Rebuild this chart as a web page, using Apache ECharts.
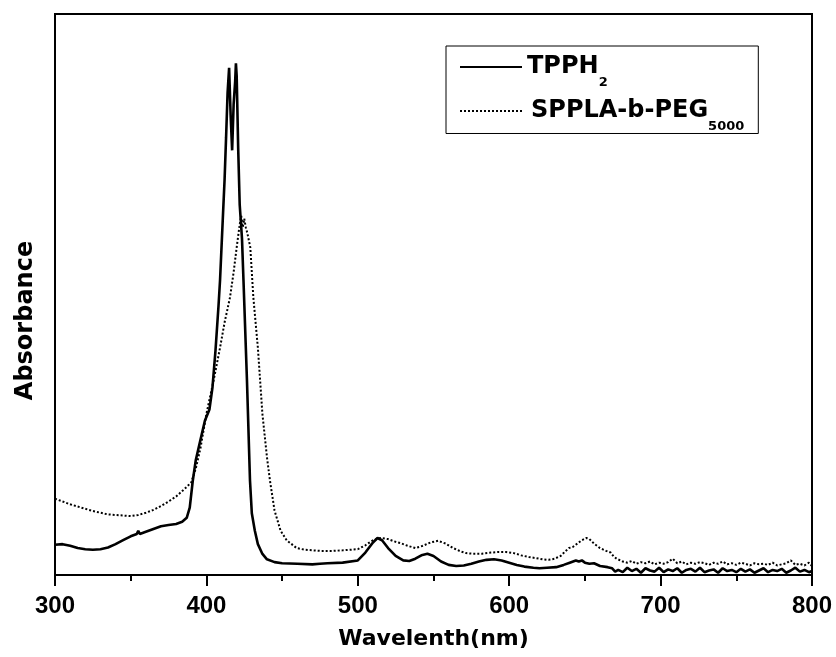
<!DOCTYPE html>
<html>
<head>
<meta charset="utf-8">
<script src="https://cdn.jsdelivr.net/npm/echarts@6/dist/echarts.min.js"></script>
<style>html,body{margin:0;padding:0;background:#fff;}#c{width:836px;height:657px;}</style>
</head>
<body>
<div id="c"></div>
<script>
// Wavelength (nm) / absorbance (arbitrary units, 0-100) pairs
var seriesNames = ['TPPH2', 'SPPLA-b-PEG5000'];
var xTicks = [300, 400, 500, 600, 700, 800];

var tpphData = [
  [300,5.4],[305,5.5],[310,5.2],[315,4.8],[320,4.6],[325,4.5],[330,4.6],[335,4.9],[340,5.5],
  [345,6.2],[350,6.9],[354,7.3],[355,7.9],[356,7.3],[360,7.7],[365,8.2],[370,8.7],[375,8.9],
  [380,9.1],[384,9.5],[387,10.2],[389,12.0],[391,16.8],[393,20.5],[396,24.0],[399,27.5],
  [402,29.5],[404,33.4],[406,40],[408,48],[409,52.5],[411,64.5],[412,70.4],[413,78],[414,86],
  [415,90.4],[416,82],[417,75.7],[418,84],[419,88],[419.5,91.2],[420,89],[421,76],[422,66],
  [423.5,60],[424.5,52.5],[426.8,34.6],[428.8,16.8],[430,11],[432,7.9],[434,5.5],[437,3.75],
  [440,2.8],[445,2.3],[450,2.1],[460,2.0],[470,1.9],[475,2.0],[480,2.1],[490,2.2],[500,2.6],
  [505,4.0],[510,5.8],[513,6.6],[516,6.2],[520,4.8],[525,3.4],[530,2.6],[534,2.5],[538,2.9],
  [542,3.5],[546,3.8],[550,3.4],[555,2.4],[560,1.8],[565,1.6],[570,1.7],[575,2.0],[580,2.4],
  [585,2.7],[590,2.8],[595,2.6],[600,2.2],[605,1.8],[610,1.5],[616,1.3],[620,1.2],[625,1.3],
  [631,1.4],[636,1.8],[640,2.2],[644,2.6],[646,2.4],[648,2.6],[650,2.2],[653,2.0],[656,2.1],
  [660,1.6],[665,1.4],[668,1.2],[670,0.6],
  [672,0.9],[675,0.5],[678,1.3],[681,0.7],[684,1.1],[687,0.4],[690,1.2],[693,0.8],[696,0.6],
  [699,1.3],[702,0.5],[705,1.0],[708,0.7],[711,1.2],[714,0.4],[717,0.9],[720,1.1],[723,0.6],
  [726,1.3],[729,0.5],[732,0.8],[735,1.0],[738,0.4],[741,1.2],[744,0.7],[747,0.9],[750,0.5],
  [753,1.1],[756,0.6],[759,1.0],[762,0.4],[765,0.8],[768,1.2],[771,0.5],[774,0.9],[777,0.7],
  [780,1.1],[783,0.4],[786,0.8],[789,1.3],[792,0.6],[795,0.9],[798,0.5],[800,0.7]
];

var spplaData = [
  [300,13.6],[305,13.1],[310,12.6],[315,12.2],[320,11.8],[325,11.4],[330,11.1],[335,10.8],
  [340,10.7],[345,10.6],[350,10.5],[355,10.7],[360,11.1],[365,11.6],[370,12.3],[375,13.1],
  [380,14.0],[385,15.2],[390,16.5],[393,19],[396,22.5],[400,28.7],[405,35],[409,40.5],[412,45],
  [415.6,49.5],[418,54],[420,58.4],[422,62.5],[423,64],[424,62],[425,63.5],[426,62],[427,61],
  [429,58.4],[431,49.5],[434,40.5],[437,28.7],[440,21],[442,16.8],[445,11.5],[449,7.9],
  [453,6.2],[459.6,4.8],[465,4.5],[470,4.4],[475,4.3],[480,4.3],[484,4.3],[490,4.4],[495,4.5],
  [500,4.6],[505,5.3],[510,6.2],[515,6.6],[520,6.4],[524,6.0],[528,5.7],[533,5.2],[538,4.8],
  [543,5.2],[548,5.8],[553,6.1],[558,5.6],[563,4.8],[568,4.2],[571.5,3.9],[576,3.8],[582,3.8],
  [588,4.0],[593,4.1],[598,4.1],[603,3.9],[608,3.5],[613,3.2],[618,3.0],[622,2.8],[626,2.7],
  [630,2.9],[634,3.4],[637,4.2],[639.5,4.8],[642,5.0],[645,5.6],[648,6.2],[651,6.6],[653,6.4],
  [656,5.6],[660,4.8],[664,4.3],[667,4.0],[669,3.3],[671,2.9],
  [672,2.7],[675,2.4],[678,2.2],[681,2.5],[684,2.0],[687,2.3],[690,2.1],[693,2.4],[696,1.9],
  [699,2.2],[702,2.0],[705,2.3],[708,2.9],[711,2.1],[714,2.4],[717,1.9],[720,2.2],[723,2.0],
  [726,2.3],[729,2.1],[732,1.8],[735,2.2],[738,2.0],[741,2.4],[744,1.9],[747,2.1],[750,1.8],
  [753,2.2],[756,2.0],[759,1.7],[762,2.1],[765,1.9],[768,2.0],[771,1.8],[774,2.2],[777,1.7],
  [780,1.9],[783,2.1],[786,2.6],[789,1.8],[792,2.0],[795,1.7],[798,2.2],[800,1.6]
];

var chart = echarts.init(document.getElementById('c'), null, {renderer: 'canvas'});
var nameFont = 'DejaVu Sans';
chart.setOption({
  animation: false,
  backgroundColor: '#fff',
  grid: {left: 55, right: 24, top: 14, bottom: 82, show: true, borderColor: '#000', borderWidth: 2, backgroundColor: 'transparent'},
  legend: {
    orient: 'vertical',
    left: 446, top: 46,
    padding: [9, 14, 0, 13],
    itemWidth: 62, itemHeight: 14,
    itemGap: 9.5,
    borderColor: '#000', borderWidth: 1,
    backgroundColor: '#fff',
    itemStyle: {opacity: 0},
    data: seriesNames,
    formatter: function (n) {
      if (n === seriesNames[0]) return '{a|TPPH}{s|2}';
      return '{b|SPPLA-b-PEG}{s|5000}';
    },
    textStyle: {
      color: '#000',
      rich: {
        a: {fontFamily: nameFont, fontWeight: 'bold', fontSize: 24, lineHeight: 32, color: '#000'},
        b: {fontFamily: nameFont, fontWeight: 'bold', fontSize: 24, lineHeight: 32, color: '#000', padding: [0, 0, 0, 4]},
        s: {fontFamily: nameFont, fontWeight: 'bold', fontSize: 13, lineHeight: 0.01, height: 0.01, verticalAlign: 'bottom', color: '#000'}
      }
    }
  },
  xAxis: {
    type: 'value',
    min: xTicks[0], max: xTicks[xTicks.length - 1], interval: 100,
    name: 'Wavelenth(nm)',
    nameLocation: 'middle',
    nameGap: 53,
    nameTextStyle: {fontFamily: nameFont, fontWeight: 'bold', fontSize: 22, color: '#000'},
    axisLine: {show: true, onZero: false, lineStyle: {color: '#000', width: 2}},
    axisTick: {show: true, inside: false, length: 11, lineStyle: {color: '#000', width: 2}},
    minorTick: {show: true, splitNumber: 2, length: 6, lineStyle: {color: '#000', width: 2}},
    axisLabel: {show: true, margin: 19, fontFamily: 'Liberation Sans, Arial', fontWeight: 'bold', fontSize: 24, color: '#000', showMinLabel: true, showMaxLabel: true},
    splitLine: {show: false}
  },
  yAxis: {
    type: 'value',
    min: 0, max: 100,
    name: 'Absorbance',
    nameLocation: 'middle',
    nameGap: 17,
    nameTextStyle: {fontFamily: nameFont, fontWeight: 'bold', fontSize: 24, color: '#000', padding: [0, 52, 0, 0]},
    axisLine: {show: false},
    axisTick: {show: false},
    axisLabel: {show: false},
    splitLine: {show: false}
  },
  series: [
    {
      name: seriesNames[0], type: 'line', data: tpphData,
      symbol: 'none', showSymbol: false, smooth: false,
      lineStyle: {color: '#000', width: 2.6, type: 'solid'},
      itemStyle: {color: '#000'}
    },
    {
      name: seriesNames[1], type: 'line', data: spplaData,
      symbol: 'none', showSymbol: false, smooth: false,
      lineStyle: {color: '#000', width: 2, type: [2, 2]},
      itemStyle: {color: '#000'}
    }
  ]
});
</script>
</body>
</html>
